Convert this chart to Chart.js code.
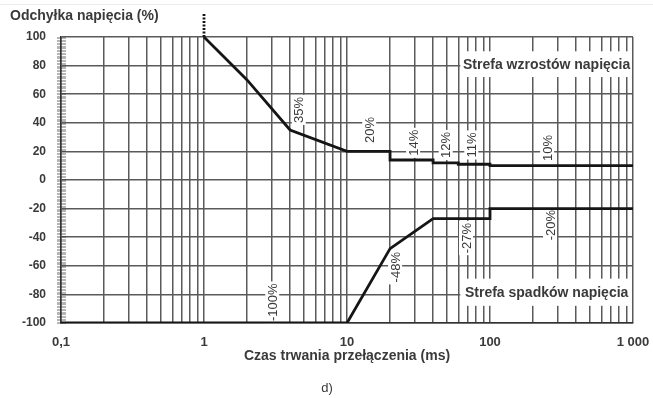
<!DOCTYPE html>
<html>
<head>
<meta charset="utf-8">
<script src="https://cdn.jsdelivr.net/npm/chart.js@4/dist/chart.umd.min.js"></script>
<style>
  html, body { margin: 0; padding: 0; background: #fff; }
  canvas { display: block; }
</style>
</head>
<body>
<canvas id="myChart" width="653" height="398"></canvas>
<script>
/*  data
-------------------------------------------------------*/
var riseTime   = [1, 2, 4, 10, 20, 20, 40, 40, 60, 60, 100, 100, 1000];
var riseLimit  = [100, 70, 35, 20, 20, 14, 14, 12, 12, 11, 11, 10, 10];
var dropTime   = [0.1, 10, 20, 40, 100, 100, 1000];
var dropLimit  = [-100, -100, -48, -27, -27, -20, -20];
var startTime  = [1, 1];
var startLimit = [100, 116];

var xDecades = [0.1, 1, 10, 100];
var xSteps = [1, 2, 3, 4, 5, 6, 7, 8, 9];
var xLabelValues = [0.1, 1, 10, 100, 1000];
var xLabelTexts = ['0,1', '1', '10', '100', '1 000'];

var limitTexts = ['35%', '20%', '14%', '12%', '11%', '10%', '-100%', '-48%', '-27%', '-20%'];
var limitTextTime = [4.6, 14.3, 29, 49, 74, 251, 3.0, 21.7, 68, 263];
var limitTextValue = [49, 35, 26, 24.5, 24.5, 22.4, -85.5, -61, -40.6, -31.5];

var zoneTexts = ['Strefa wzrostów napięcia', 'Strefa spadków napięcia'];
var zoneFrom = [62, 62];
var zoneTop = [90, -69];
var zoneBottom = [72, -88];

var FONT = "'Liberation Sans', Arial, sans-serif";
var TEXT = '#3a3a3a';
var GRID = '#5a5a5a';

function pairs(xs, ys) {
  return xs.map(function (x, i) { return { x: x, y: ys[i] }; });
}

var xTicks = [];
xDecades.forEach(function (d) {
  xSteps.forEach(function (s) { xTicks.push(s * d); });
});
xTicks.push(1000);

/*  drawing helpers
-------------------------------------------------------*/
var extras = {
  id: 'extras',
  beforeDraw: function (chart) {
    var c = chart.ctx;
    c.save();
    c.fillStyle = '#fff';
    c.fillRect(0, 0, chart.width, chart.height);
    c.fillStyle = '#ececec';
    c.fillRect(0, 4, chart.width, 1);
    c.restore();
  },
  beforeDatasetsDraw: function (chart) {
    var c = chart.ctx, xs = chart.scales.x, ys = chart.scales.y, area = chart.chartArea;
    c.save();
    // dense ticks along the left axis
    c.strokeStyle = 'rgba(50,50,50,0.6)';
    c.lineWidth = 0.6;
    for (var v = -100; v <= 100; v++) {
      var py = Math.round(ys.getPixelForValue(v)) + 0.5;
      c.beginPath();
      c.moveTo(area.left - 4, py);
      c.lineTo(area.left + 5, py);
      c.stroke();
    }
    // zone boxes
    zoneTexts.forEach(function (t, i) {
      var x0 = xs.getPixelForValue(zoneFrom[i]);
      var y0 = ys.getPixelForValue(zoneTop[i]);
      var y1 = ys.getPixelForValue(zoneBottom[i]);
      c.fillStyle = '#fff';
      c.fillRect(x0, y0, area.right - x0 - 1, y1 - y0);
      c.fillStyle = TEXT;
      c.font = 'bold 14px ' + FONT;
      c.textAlign = 'center';
      c.textBaseline = 'middle';
      c.fillText(t, (x0 + area.right) / 2, (y0 + y1) / 2 + 1);
    });
    // rotated limit labels
    c.font = '13px ' + FONT;
    limitTexts.forEach(function (t, i) {
      var px = xs.getPixelForValue(limitTextTime[i]);
      var py = ys.getPixelForValue(limitTextValue[i]);
      var w = c.measureText(t).width;
      c.save();
      c.translate(px, py);
      c.rotate(-Math.PI / 2);
      c.fillStyle = '#fff';
      c.fillRect(-w / 2 - 2, -7, w + 4, 14);
      c.fillStyle = TEXT;
      c.textAlign = 'center';
      c.textBaseline = 'middle';
      c.fillText(t, 0, 1);
      c.restore();
    });
    c.restore();
  },
  afterDraw: function (chart) {
    var c = chart.ctx;
    c.save();
    c.fillStyle = TEXT;
    c.font = 'bold 14px ' + FONT;
    c.textAlign = 'left';
    c.textBaseline = 'middle';
    c.fillText('Odchyłka napięcia (%)', 10, 16);
    c.font = '13px ' + FONT;
    c.textAlign = 'center';
    c.fillText('d)', 327, 388);
    c.restore();
  }
};

/*  chart
-------------------------------------------------------*/
var ctx = document.getElementById("myChart");
var myChart = new Chart(ctx, {
  type: 'line',
  data: {
    datasets: [{
        data: pairs(riseTime, riseLimit),
        borderColor: '#151515',
        borderWidth: 2.8,
        pointRadius: 0,
        tension: 0
      }, {
        data: pairs(dropTime, dropLimit),
        borderColor: '#151515',
        borderWidth: 2.8,
        pointRadius: 0,
        tension: 0
      }, {
        data: pairs(startTime, startLimit),
        borderColor: '#151515',
        borderWidth: 2.8,
        borderDash: [2, 1.5],
        pointRadius: 0,
        clip: false
      }
    ]
  },
  options: {
    responsive: false,
    animation: false,
    devicePixelRatio: 1,
    layout: { padding: { left: 0, right: 20, top: 37, bottom: 33 } },
    plugins: {
      legend: { display: false },
      tooltip: { enabled: false }
    },
    scales: {
      x: {
        type: 'logarithmic',
        min: 0.1,
        max: 1000,
        afterBuildTicks: function (s) {
          s.ticks = xTicks.map(function (v) { return { value: v }; });
        },
        afterFit: function (s) {
          s.height = 42;
          s.paddingLeft = 0;
          s.paddingRight = 0;
        },
        grid: { color: GRID, lineWidth: 1.5, drawTicks: false },
        border: { color: '#333', width: 1.5 },
        ticks: {
          autoSkip: false,
          maxRotation: 0,
          padding: 12,
          color: TEXT,
          font: { family: FONT, size: 13, weight: 'bold' },
          callback: function (value) {
            var i = xLabelValues.indexOf(value);
            return i >= 0 ? xLabelTexts[i] : '';
          }
        },
        title: {
          display: true,
          text: 'Czas trwania przełączenia (ms)',
          color: TEXT,
          padding: 0,
          font: { family: FONT, size: 14, weight: 'bold' }
        }
      },
      y: {
        min: -100,
        max: 100,
        afterFit: function (s) { s.width = 61; },
        grid: { color: GRID, lineWidth: 1.5, drawTicks: false },
        border: { color: '#333', width: 1.5 },
        ticks: {
          stepSize: 10,
          padding: 15,
          color: TEXT,
          font: { family: FONT, size: 12, weight: 'bold' },
          callback: function (value) { return value % 20 === 0 ? value : ''; }
        }
      }
    }
  },
  plugins: [extras]
});

// pin the plot area to where it sits in the reference
var pad = myChart.options.layout.padding;
pad.right += Math.round(myChart.chartArea.right - 633);
pad.top += Math.round(37 - myChart.chartArea.top);
pad.bottom += Math.round(myChart.chartArea.bottom - 323);
myChart.update();
</script>
</body>
</html>
